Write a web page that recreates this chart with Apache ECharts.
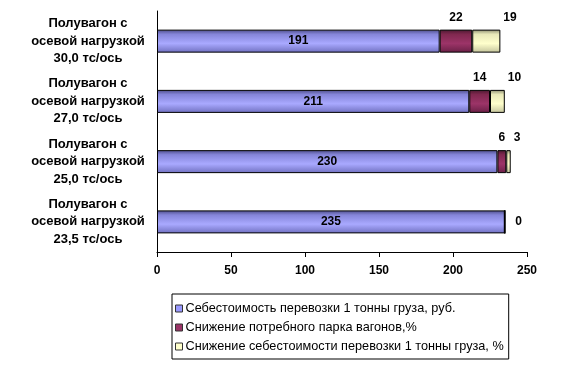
<!DOCTYPE html>
<html>
<head>
<meta charset="utf-8">
<script src="https://cdn.jsdelivr.net/npm/echarts@6/dist/echarts.min.js"></script>
<style>
  html, body { margin: 0; padding: 0; background: #fff; }
  #chart { width: 562px; height: 371px; }
</style>
</head>
<body>
<div id="chart"></div>
<script>
var categories = [
  "Полувагон с\nосевой нагрузкой\n30,0 тс/ось",
  "Полувагон с\nосевой нагрузкой\n27,0 тс/ось",
  "Полувагон с\nосевой нагрузкой\n25,0 тс/ось",
  "Полувагон с\nосевой нагрузкой\n23,5 тс/ось"
];
var seriesNames = [
  "Себестоимость перевозки 1 тонны груза, руб.",
  "Снижение потребного парка вагонов,%",
  "Снижение себестоимости перевозки 1 тонны груза, %"
];
var costValues = [191, 211, 230, 235];
var fleetReduction = [22, 14, 6, 0];
var costReduction = [19, 10, 3, 0];
var xTicks = [0, 50, 100, 150, 200, 250];

var font = 'Arial, "Liberation Sans", sans-serif';

function grad(c0, c1, c2, c3) {
  return new echarts.graphic.LinearGradient(0, 0, 0, 1, [
    { offset: 0, color: c0 },
    { offset: 0.2, color: c1 },
    { offset: 0.6, color: c2 },
    { offset: 1, color: c3 }
  ]);
}

var labelBase = { fontFamily: font, fontSize: 12, fontWeight: "bold", color: "#000" };

// fleet reduction: label above the segment, hidden when zero
var fleetData = fleetReduction.map(function (v) {
  return { value: v, label: { show: v !== 0 } };
});
// cost reduction: label above right end, or right of the bar when zero
var costRedData = costReduction.map(function (v) {
  if (v === 0) {
    return { value: v, label: { position: "right", distance: 10, align: "left", verticalAlign: "middle", offset: [0, 0] } };
  }
  return { value: v };
});

var chart = echarts.init(document.getElementById("chart"));
chart.setOption({
  animation: false,
  backgroundColor: "#fff",
  grid: { left: 157, right: 35, top: 11, bottom: 119, outerBoundsMode: "none" },
  xAxis: {
    type: "value",
    min: xTicks[0],
    max: xTicks[xTicks.length - 1],
    interval: 50,
    axisLine: { show: true, lineStyle: { color: "#000", width: 1 } },
    axisTick: { show: true, length: 5, lineStyle: { color: "#000" } },
    splitLine: { show: false },
    axisLabel: { margin: 13, hideOverlap: false, fontFamily: font, fontSize: 12, fontWeight: "bold", color: "#000" }
  },
  yAxis: {
    type: "category",
    inverse: true,
    data: categories,
    axisLine: { show: true, lineStyle: { color: "#000", width: 1 } },
    axisTick: { show: false },
    axisLabel: {
      align: "center",
      margin: 69,
      lineHeight: 17.5,
      padding: [6, 0, 0, 0],
      overflow: "none",
      hideOverlap: false,
      fontFamily: font,
      fontSize: 13,
      fontWeight: "bold",
      color: "#000"
    }
  },
  legend: {
    orient: "vertical",
    left: 172,
    top: 294,
    width: 337,
    padding: [8, 5, 6, 3],
    itemGap: 6,
    itemWidth: 7,
    itemHeight: 7,
    borderColor: "#000",
    borderWidth: 1,
    icon: "rect",
    textStyle: { fontFamily: font, fontSize: 12.7, color: "#000", padding: [0, 0, 0, -2] },
    data: [
      { name: seriesNames[0], itemStyle: { color: "#9999ff", borderColor: "#333", borderWidth: 1 } },
      { name: seriesNames[1], itemStyle: { color: "#993366", borderColor: "#333", borderWidth: 1 } },
      { name: seriesNames[2], itemStyle: { color: "#ffffcc", borderColor: "#333", borderWidth: 1 } }
    ]
  },
  series: [
    {
      name: seriesNames[0],
      type: "bar",
      stack: "total",
      barWidth: 23,
      data: costValues,
      itemStyle: { color: grad("#4c4c88", "#8585d8", "#a9a9ff", "#7070c0"), borderColor: "#000", borderWidth: 1 },
      label: Object.assign({ show: true, position: "inside" }, labelBase)
    },
    {
      name: seriesNames[1],
      type: "bar",
      stack: "total",
      data: fleetData,
      itemStyle: { color: grad("#4a1830", "#80284f", "#9c3468", "#6a2046"), borderColor: "#000", borderWidth: 1 },
      label: Object.assign({ show: true, position: "top", distance: 6 }, labelBase)
    },
    {
      name: seriesNames[2],
      type: "bar",
      stack: "total",
      data: costRedData,
      itemStyle: { color: grad("#8c8c70", "#e8e8b8", "#ffffcc", "#c4c49c"), borderColor: "#000", borderWidth: 1 },
      label: Object.assign({
        show: true,
        position: ["100%", 0],
        align: "left",
        verticalAlign: "bottom",
        offset: [3, -6]
      }, labelBase)
    }
  ]
});
</script>
</body>
</html>
